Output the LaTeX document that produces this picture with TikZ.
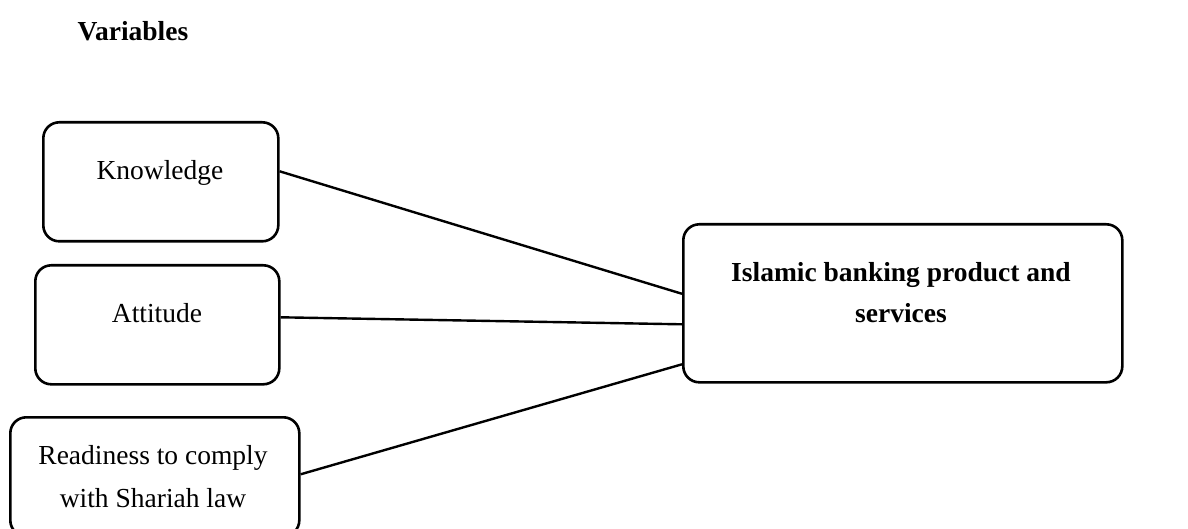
\documentclass[tikz,border=0pt]{standalone}
\usepackage{fontspec}
\setmainfont{Liberation Serif}
\begin{document}
\begin{tikzpicture}[x=0.5pt,y=-0.5pt,
  box/.style={draw,line width=1.3pt,rounded corners=8pt,inner sep=0pt,anchor=north west},
  txt/.style={anchor=base,inner sep=0pt,font=\fontsize{13.75}{16}\selectfont},
  btxt/.style={txt,font=\fontsize{13.75}{16}\selectfont\bfseries},
  conn/.style={line width=1.2pt}]
\useasboundingbox (0,0) rectangle (1188,529);
\node[btxt] (var) at (133,41) {Variables};
\node[box,minimum width=117.5pt,minimum height=59.5pt] (know) at (42,121) {};
\node[box,minimum width=122pt,minimum height=59.5pt] (att) at (34,264) {};
\node[box,minimum width=144.5pt,minimum height=59.5pt] (ready) at (9,416) {};
\node[box,minimum width=219.5pt,minimum height=79pt] (big) at (682,223) {};
\node[txt] (kt) at (160,180) {Knowledge};
\node[txt] (at) at (157,322) {Attitude};
\node[txt] (rt1) at (153,464) {Readiness to comply};
\node[txt] (rt2) at (153,507) {with Shariah law};
\node[btxt] (bt1) at (901,282) {Islamic banking product and};
\node[btxt] (bt2) at (901,322) {services};
\draw[conn] ([yshift=5.25pt]know.east) -- ([yshift=4.75pt]big.west);
\draw[conn] ([yshift=3.75pt]att.east) -- ([yshift=-10.5pt]big.west);
\draw[conn] ([yshift=1.25pt]ready.east) -- ([yshift=-30.5pt]big.west);
\end{tikzpicture}
\end{document}
